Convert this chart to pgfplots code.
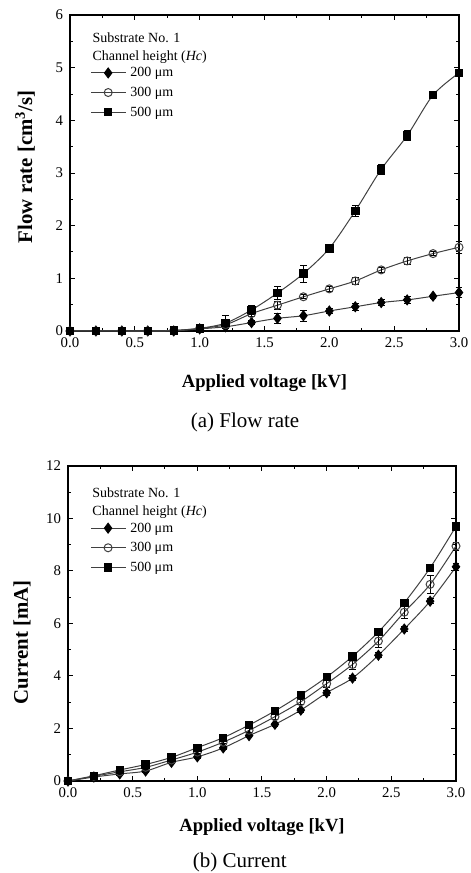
\documentclass[border=0pt]{standalone}
\usepackage{pgfplots}
\usepackage{pgfplotstable}
\pgfplotsset{compat=1.18}
\usepackage{fontspec}
\setmainfont{Liberation Serif}

\pgfplotstableread{
x   a200 e200 a300 e300 a500 e500
0.0 0    0    0    0    0    0
0.2 0    0    0    0    0    0
0.4 0    0    0    0    0    0
0.6 0    0    0    0    0    0
0.8 0    0.01 0.01 0.01 0.01 0.01
1.0 0.04 0.02 0.05 0.02 0.05 0.02
1.2 0.08 0.06 0.12 0.08 0.15 0.14
1.4 0.16 0.04 0.33 0.06 0.40 0.08
1.6 0.24 0.10 0.49 0.08 0.72 0.12
1.8 0.29 0.10 0.65 0.04 1.09 0.16
2.0 0.38 0.05 0.80 0.04 1.57 0.08
2.2 0.46 0.07 0.95 0.06 2.28 0.10
2.4 0.54 0.06 1.16 0.04 3.07 0.10
2.6 0.59 0.07 1.33 0.06 3.71 0.10
2.8 0.66 0.04 1.47 0.04 4.48 0.04
3.0 0.73 0.09 1.59 0.11 4.90 0.07
}\flowdata

\pgfplotstableread{
x   b200 f200 b300 f300 b500 f500
0.0 0    0    0    0    0    0
0.2 0.15 0.03 0.18 0.03 0.20 0.03
0.4 0.27 0.04 0.35 0.04 0.42 0.04
0.6 0.38 0.05 0.52 0.05 0.63 0.05
0.8 0.71 0.05 0.80 0.05 0.90 0.05
1.0 0.92 0.06 1.10 0.06 1.27 0.06
1.2 1.26 0.06 1.48 0.06 1.65 0.06
1.4 1.73 0.07 1.93 0.08 2.13 0.07
1.6 2.16 0.08 2.45 0.10 2.67 0.08
1.8 2.70 0.08 3.02 0.10 3.28 0.08
2.0 3.36 0.10 3.71 0.15 3.96 0.10
2.2 3.92 0.10 4.44 0.20 4.75 0.10
2.4 4.79 0.10 5.33 0.25 5.68 0.10
2.6 5.79 0.10 6.43 0.25 6.79 0.12
2.8 6.85 0.10 7.49 0.35 8.12 0.12
3.0 8.16 0.12 8.95 0.15 9.70 0.12
}\currentdata

\pgfplotsset{
  panel/.style={
    scale only axis,
    width=194.5pt,
    xmin=0, xmax=3,
    xtick={0,0.5,...,3},
    minor x tick num=1,
    minor y tick num=1,
    tick align=inside,
    major tick length=2.5pt,
    minor tick length=1.5pt,
    axis line style={line width=0.6pt},
    every tick/.style={line width=0.5pt, black},
    /pgf/number format/assume math mode=true,
    xticklabel style={font=\fontsize{7.4}{8}\selectfont,
      /pgf/number format/.cd, fixed, fixed zerofill, precision=1},
    yticklabel style={font=\fontsize{7.4}{8}\selectfont},
    xlabel style={font=\bfseries\fontsize{9.3}{10}\selectfont},
    ylabel style={font=\bfseries\fontsize{10.4}{11}\selectfont},
    clip=false,
    legend cell align=left,
    legend style={draw=none, fill=none, inner sep=0pt,
      font=\fontsize{7}{8}\selectfont,
      row sep=2.2pt,
      nodes={inner sep=0.8pt, text height=5pt, text depth=1pt},
      /tikz/every odd column/.append style={column sep=1.5pt}},
  },
  ser/.style={black!75, line width=0.5pt, smooth,
    mark options={solid, black, line width=0.45pt},
    error bars/y dir=both, error bars/y explicit,
    error bars/error bar style={line width=0.4pt, black},
    error bars/error mark options={rotate=90, mark size=1.7pt, line width=0.4pt, black}},
  s200/.style={ser, mark=diamond*, mark size=2.5pt},
  s300/.style={ser, mark=o, mark size=2pt, mark options={fill=white}},
  s500/.style={ser, mark=square*, mark size=1.85pt},
}

\begin{document}
\begin{tikzpicture}
\useasboundingbox (0,0) rectangle (235.5pt,436.5pt);

% (a) Flow rate
\begin{axis}[panel,
  at={(35pt,271pt)}, anchor=south west,
  height=158pt,
  ymin=0, ymax=6, ytick={0,1,...,6},
  xlabel={Applied voltage [kV]},
  ylabel={Flow rate [cm\textsuperscript{3}/s]},
  xlabel style={at={(axis description cs:0.5,-0.165)}, anchor=center},
  ylabel style={at={(axis description cs:-0.1157,0.52)}, anchor=center},
  legend style={at={(rel axis cs:0.052,0.842)}, anchor=north west},
]
\addplot+[s200] table[x=x, y=a200, y error=e200] {\flowdata};
\addlegendentry{200 μm}
\addplot+[s300] table[x=x, y=a300, y error=e300] {\flowdata};
\addlegendentry{300 μm}
\addplot+[s500] table[x=x, y=a500, y error=e500] {\flowdata};
\addlegendentry{500 μm}
\node[anchor=west, font=\fontsize{7}{8}\selectfont, inner sep=0pt] at (rel axis cs:0.057,0.927) {Substrate No. 1};
\node[anchor=west, font=\fontsize{7}{8}\selectfont, inner sep=0pt] at (rel axis cs:0.057,0.867) {Channel height (\textit{Hc})};
\node[anchor=center, font=\fontsize{10.5}{12}\selectfont] at (rel axis cs:0.45,-0.291) {(a) Flow rate};
\end{axis}

% (b) Current
\begin{axis}[panel,
  at={(34pt,46pt)}, anchor=south west,
  width=194pt, height=157.5pt,
  ymin=0, ymax=12, ytick={0,2,...,12},
  xlabel={Applied voltage [kV]},
  ylabel={Current [mA]},
  xlabel style={at={(axis description cs:0.5,-0.146)}, anchor=center},
  ylabel style={at={(axis description cs:-0.1186,0.44)}, anchor=center},
  legend style={at={(rel axis cs:0.057,0.828)}, anchor=north west},
]
\addplot+[s200] table[x=x, y=b200, y error=f200] {\currentdata};
\addlegendentry{200 μm}
\addplot+[s300] table[x=x, y=b300, y error=f300] {\currentdata};
\addlegendentry{300 μm}
\addplot+[s500] table[x=x, y=b500, y error=f500] {\currentdata};
\addlegendentry{500 μm}
\node[anchor=west, font=\fontsize{7}{8}\selectfont, inner sep=0pt] at (rel axis cs:0.062,0.914) {Substrate No. 1};
\node[anchor=west, font=\fontsize{7}{8}\selectfont, inner sep=0pt] at (rel axis cs:0.062,0.854) {Channel height (\textit{Hc})};
\node[anchor=center, font=\fontsize{10.5}{12}\selectfont] at (rel axis cs:0.443,-0.257) {(b) Current};
\end{axis}
\end{tikzpicture}
\end{document}
